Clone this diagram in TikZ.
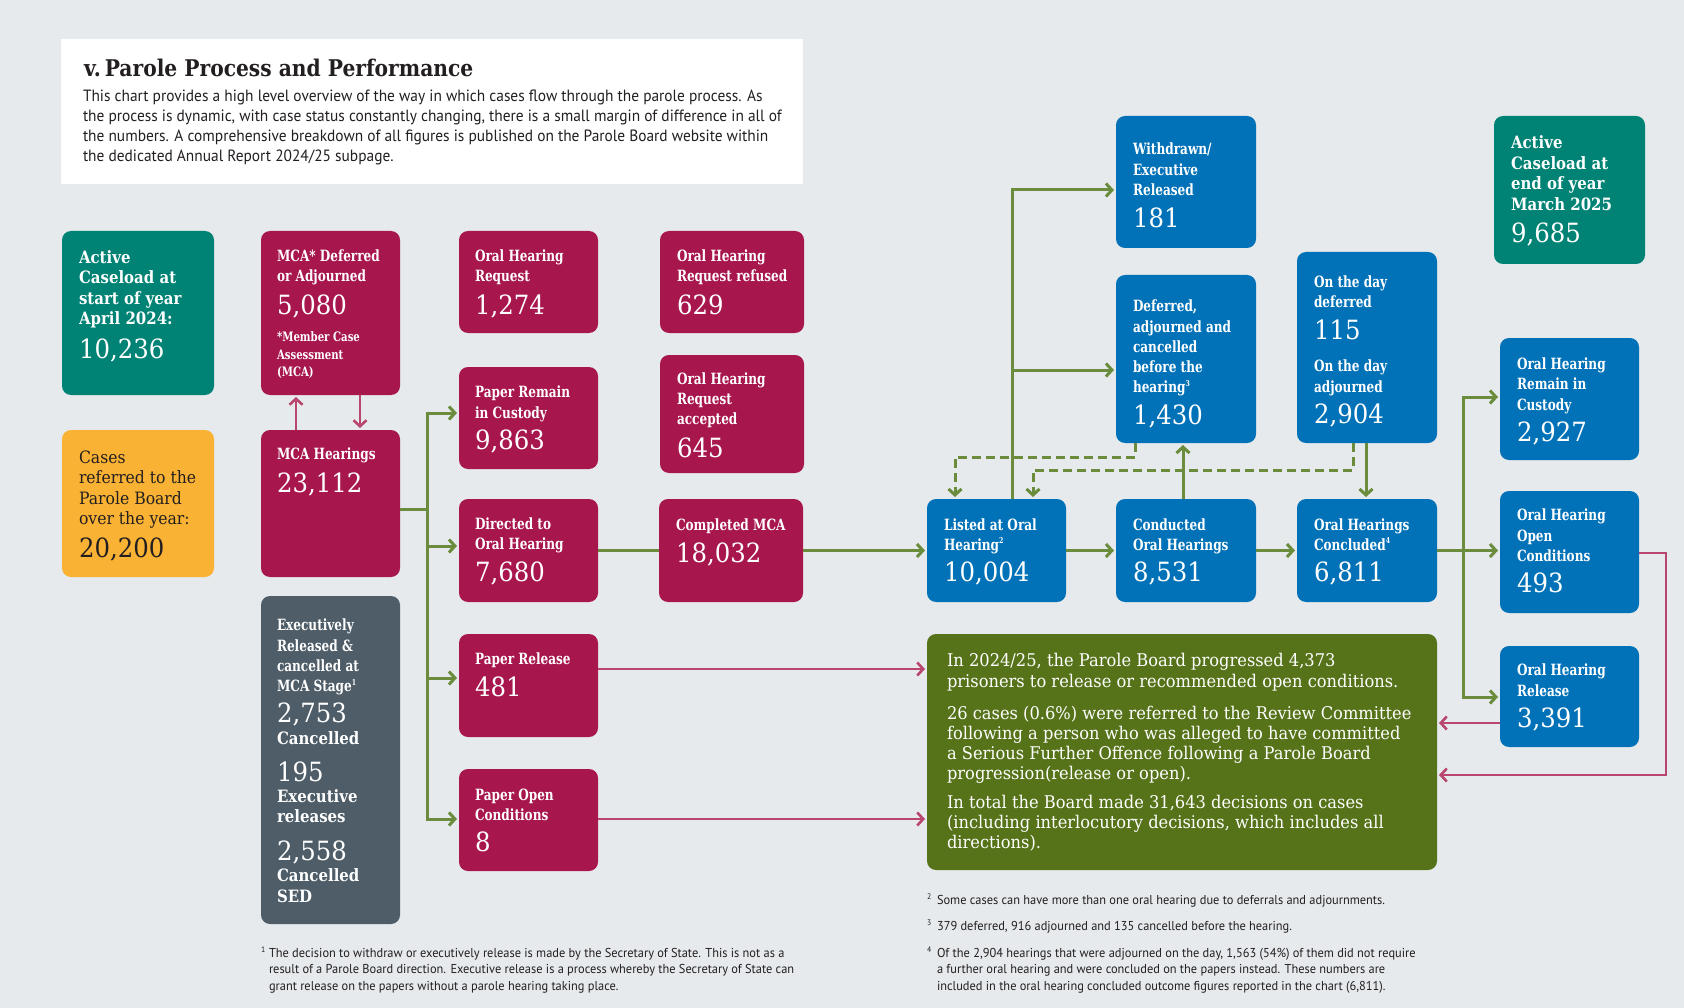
\documentclass[tikz,border=0pt]{standalone}
\usepackage{fontspec}
\setmainfont{PT Sans}
\newfontfamily\slabT[FakeStretch=0.78]{DejaVu Serif}
\newfontfamily\slabN[FakeStretch=0.92]{DejaVu Serif}
\newfontfamily\slabS[FakeStretch=0.93]{DejaVu Serif}
\newfontfamily\slabH[FakeStretch=0.88]{DejaVu Serif}
\newfontfamily\hsansA[FakeStretch=0.945]{PT Sans}
\newfontfamily\hsansB[FakeStretch=0.96]{PT Sans}
\usetikzlibrary{arrows.meta}
\definecolor{bgc}{RGB}{230,234,237}
\definecolor{teal}{RGB}{0,131,117}
\definecolor{amber}{RGB}{249,178,51}
\definecolor{crim}{RGB}{168,22,78}
\definecolor{slate}{RGB}{78,93,104}
\definecolor{blu}{RGB}{2,114,184}
\definecolor{oliv}{RGB}{86,115,26}
\definecolor{gcol}{RGB}{107,140,60}
\definecolor{pcol}{RGB}{184,70,111}
\definecolor{txtd}{RGB}{35,31,32}
\newcommand\FS[2]{\fontsize{#1pt}{#2pt}\selectfont}
\newcommand\sups[1]{\raisebox{0.42em}{\fontsize{8}{8}\selectfont #1}}
\newcommand\pbox[6]{\node[bx, fill=#6, minimum width={(#4)-(#2)}, minimum height={(#5)-(#3)}] (#1) at ({((#2)+(#4))/2},{((#3)+(#5))/2}) {};}
\newcommand\TX[6]{\node[#2] (#1) at ({#3},{#4-#5}) {\rule{0pt}{#5pt}#6};}
\tikzset{
  bx/.style={rectangle, rounded corners=9pt, inner sep=0pt, outer sep=0pt, draw=none},
  txt/.style={anchor=north west, align=left, inner sep=0pt, outer sep=0pt},
  tt/.style={txt, text=white, font=\slabT\bfseries\FS{15.5}{20.3}},
  nt/.style={txt, text=white, font=\slabT\bfseries\FS{13}{17.5}},
  tl/.style={txt, text=white, font=\slabH\bfseries\FS{17}{20.4}},
  ct/.style={txt, text=txtd, font=\slabN\FS{17}{20.4}},
  gl/.style={txt, text=white, font=\slabH\bfseries\FS{17}{20.7}},
  sm/.style={txt, text=white, font=\slabS\FS{17.5}{20.3}},
  hb/.style={txt, text=txtd, font=\hsansA\FS{16.3}{20}},
  fn/.style={txt, text=txtd, font=\hsansB\FS{12.9}{16.5}},
  fnm/.style={anchor=base west, inner sep=0pt, outer sep=0pt, text=txtd, font=\hsansB\FS{8}{8}},
  nm/.style={anchor=base west, inner sep=0pt, outer sep=0pt, text=white, font=\slabN\FS{26.5}{28}},
  gline/.style={draw=gcol, line width=3pt},
  garr/.style={gline, -{Straight Barb[length=6pt,width=13pt]}, shorten >=2pt},
  gdash/.style={garr, dash pattern=on 9pt off 5pt},
  parr/.style={draw=pcol, line width=2.6pt, -{Straight Barb[length=6pt,width=13pt]}, shorten >=2pt},
  pline/.style={draw=pcol, line width=2.6pt}
}
\begin{document}
\begin{tikzpicture}[x=1pt,y=-1pt]
\useasboundingbox (0,0) rectangle (1684,1008);
\fill[bgc] (0,0) rectangle (1684,1008);
% header
\node[rectangle, fill=white, inner sep=0pt, minimum width=742, minimum height=145] (hdr) at (432,111.5) {};
\node[anchor=base west, inner sep=0pt, text=txtd, font=\slabH\bfseries\FS{23}{26}] (title) at (84,77) {v.\,Parole Process and Performance};
\TX{hdrb}{hb}{83}{102}{13}{This chart provides a high level overview of the way in which cases flow through the parole process. As\\the process is dynamic, with case status constantly changing, there is a small margin of difference in all of\\the numbers. A comprehensive breakdown of all figures is published on the Parole Board website within\\the dedicated Annual Report 2024/25 subpage.}
% boxes
\pbox{ast}{62}{231}{214}{395}{teal}
\pbox{cref}{62}{430}{214}{577}{amber}
\pbox{mcad}{261}{231}{400}{395}{crim}
\pbox{mcah}{261}{430}{400}{577}{crim}
\pbox{exr}{261}{596}{400}{924}{slate}
\pbox{ohr}{459}{231}{598}{333}{crim}
\pbox{prc}{459}{367}{598}{469}{crim}
\pbox{dir}{459}{499}{598}{602}{crim}
\pbox{prl}{459}{634}{598}{737}{crim}
\pbox{pop}{459}{769}{598}{871}{crim}
\pbox{ohrf}{660}{231}{804}{333}{crim}
\pbox{ohra}{660}{355}{804}{473}{crim}
\pbox{cmca}{659}{499}{803}{602}{crim}
\pbox{lst}{927}{499}{1066}{602}{blu}
\pbox{cnd}{1116}{499}{1256}{602}{blu}
\pbox{ohc}{1297}{499}{1437}{602}{blu}
\pbox{wd}{1116}{116}{1256}{248}{blu}
\pbox{def}{1116}{275}{1256}{443}{blu}
\pbox{otd}{1297}{252}{1437}{443}{blu}
\pbox{aend}{1494}{116}{1645}{264}{teal}
\pbox{ohrm}{1500}{338}{1639}{460}{blu}
\pbox{oho}{1500}{491}{1639}{613}{blu}
\pbox{ohrl}{1500}{646}{1639}{747}{blu}
\pbox{sum}{927}{634}{1437}{870}{oliv}
% box texts
\TX{ast-t}{tl}{79}{263.3}{13.6}{Active\\Caseload at\\start of year\\April 2024:}
\node[nm] (ast-n) at (79,358) {10,236};
\TX{cref-t}{ct}{79}{463.3}{13.6}{Cases\\referred to the\\Parole Board\\over the year:}
\node[nm, text=txtd] (cref-n) at (79,557) {20,200};
\TX{mcad-t}{tt}{277}{261.7}{12.4}{MCA* Deferred\\or Adjourned}
\node[nm] (mcad-n) at (277,314.3) {5,080};
\TX{mcad-m}{nt}{277}{341.7}{10.4}{*Member Case\\Assessment\\(MCA)}
\TX{mcah-t}{tt}{277}{459}{12.4}{MCA Hearings}
\node[nm] (mcah-n) at (277,492.7) {23,112};
\TX{exr-t}{tt}{277}{630.7}{12.4}{Executively\\Released \&\\cancelled at\\MCA Stage\sups{1}}
\node[nm] (exr-n1) at (277,722.7) {2,753};
\TX{exr-l1}{gl}{277}{744}{13.6}{Cancelled}
\node[nm] (exr-n2) at (277,781.7) {195};
\TX{exr-l2}{gl}{277}{802}{13.6}{Executive\\releases}
\node[nm] (exr-n3) at (277,860.7) {2,558};
\TX{exr-l3}{gl}{277}{881.7}{13.6}{Cancelled\\SED}
\TX{ohr-t}{tt}{475}{261.7}{12.4}{Oral Hearing\\Request}
\node[nm] (ohr-n) at (475,314.3) {1,274};
\TX{prc-t}{tt}{475}{397.7}{12.4}{Paper Remain\\in Custody}
\node[nm] (prc-n) at (475,449.3) {9,863};
\TX{dir-t}{tt}{475}{529.3}{12.4}{Directed to\\Oral Hearing}
\node[nm] (dir-n) at (475,581.7) {7,680};
\TX{prl-t}{tt}{475}{664}{12.4}{Paper Release}
\node[nm] (prl-n) at (475,696.7) {481};
\TX{pop-t}{tt}{475}{800}{12.4}{Paper Open\\Conditions}
\node[nm] (pop-n) at (475,851.7) {8};
\TX{ohrf-t}{tt}{677}{261.7}{12.4}{Oral Hearing\\Request refused}
\node[nm] (ohrf-n) at (677,314.3) {629};
\TX{ohra-t}{tt}{677}{384.3}{12.4}{Oral Hearing\\Request\\accepted}
\node[nm] (ohra-n) at (677,457.3) {645};
\TX{cmca-t}{tt}{676}{530}{12.4}{Completed MCA}
\node[nm] (cmca-n) at (676,562.3) {18,032};
\TX{lst-t}{tt}{944}{530}{12.4}{Listed at Oral\\Hearing\sups{2}}
\node[nm] (lst-n) at (944,581.5) {10,004};
\TX{cnd-t}{tt}{1133}{530}{12.4}{Conducted\\Oral Hearings}
\node[nm] (cnd-n) at (1133,581.5) {8,531};
\TX{ohc-t}{tt}{1314}{530}{12.4}{Oral Hearings\\Concluded\sups{4}}
\node[nm] (ohc-n) at (1314,581.5) {6,811};
\TX{wd-t}{tt}{1133}{155}{12.4}{Withdrawn/\\Executive\\Released}
\node[nm] (wd-n) at (1133,227.3) {181};
\TX{def-t}{tt}{1133}{311.7}{12.4}{Deferred,\\adjourned and\\cancelled\\before the\\hearing\sups{3}}
\node[nm] (def-n) at (1133,424.3) {1,430};
\TX{otd-t1}{tt}{1314}{287.7}{12.4}{On the day\\deferred}
\node[nm] (otd-n1) at (1314,340) {115};
\TX{otd-t2}{tt}{1314}{371.7}{12.4}{On the day\\adjourned}
\node[nm] (otd-n2) at (1314,423.3) {2,904};
\TX{aend-t}{tl}{1511}{149}{13.6}{Active\\Caseload at\\end of year\\March 2025}
\node[nm] (aend-n) at (1511,242.3) {9,685};
\TX{ohrm-t}{tt}{1517}{369.4}{12.4}{Oral Hearing\\Remain in\\Custody}
\node[nm] (ohrm-n) at (1517,441) {2,927};
\TX{oho-t}{tt}{1517}{520.9}{12.4}{Oral Hearing\\Open\\Conditions}
\node[nm] (oho-n) at (1517,592.4) {493};
\TX{ohrl-t}{tt}{1517}{675.8}{12.4}{Oral Hearing\\Release}
\node[nm] (ohrl-n) at (1517,727.1) {3,391};
\TX{sum-p1}{sm}{947}{666.7}{14}{In 2024/25, the Parole Board progressed 4,373\\prisoners to release or recommended open conditions.}
\TX{sum-p2}{sm}{947}{719}{14}{26 cases (0.6\%) were referred to the Review Committee\\following a person who was alleged to have committed\\a Serious Further Offence following a Parole Board\\progression(release or open).}
\TX{sum-p3}{sm}{947}{808.3}{14}{In total the Board made 31,643 decisions on cases\\(including interlocutory decisions, which includes all\\directions).}
% footnotes
\node[fnm] (fn1m) at (261,952) {1};
\TX{fn1}{fn}{269}{957}{10.3}{The decision to withdraw or executively release is made by the Secretary of State. This is not as a\\result of a Parole Board direction. Executive release is a process whereby the Secretary of State can\\grant release on the papers without a parole hearing taking place.}
\node[fnm] (fn2m) at (927,899) {2};
\TX{fn2}{fn}{937}{904}{10.3}{Some cases can have more than one oral hearing due to deferrals and adjournments.}
\node[fnm] (fn3m) at (927,925.7) {3};
\TX{fn3}{fn}{937}{930.7}{10.3}{379 deferred, 916 adjourned and 135 cancelled before the hearing.}
\node[fnm] (fn4m) at (927,952) {4};
\TX{fn4}{fn}{937}{957}{10.3}{Of the 2,904 hearings that were adjourned on the day, 1,563 (54\%) of them did not require\\a further oral hearing and were concluded on the papers instead. These numbers are\\included in the oral hearing concluded outcome figures reported in the chart (6,811).}
% connectors
\draw[parr] (mcah.north -| 296,0) -- (mcad.south -| 296,0);
\draw[parr] (mcad.south -| 360,0) -- (mcah.north -| 360,0);
\coordinate (lb) at (427,509);
\draw[gline] (mcah.east |- lb) -- (lb);
\draw[garr] (lb) |- (prc.west |- 0,413);
\draw[garr] (lb) |- (pop.west |- 0,819);
\draw[garr] (lb |- 0,546) -- (dir.west |- 0,546);
\draw[garr] (lb |- 0,678) -- (prl.west |- 0,678);
\draw[gline] (dir.east) -- (cmca.west);
\draw[garr] (cmca.east) -- (lst.west);
\draw[garr] (lst.east) -- (cnd.west);
\draw[garr] (cnd.east) -- (ohc.west);
\coordinate (rb) at (1463,550.5);
\draw[garr] (ohc.east) -- (oho.west |- ohc.east);
\draw[garr] (rb) |- (ohrm.west |- 0,397);
\draw[garr] (rb) |- (ohrl.west |- 0,697);
\coordinate (lv) at (1012,370);
\draw[garr] (lst.north -| lv) |- (wd.west |- 0,190);
\draw[garr] (lv) -- (def.west |- lv);
\draw[garr] (cnd.north -| 1183,0) -- (def.south -| 1183,0);
\draw[garr] (otd.south -| 1366,0) -- (ohc.north -| 1366,0);
\draw[gdash] (def.south -| 1135,0) |- (955,457) -- (lst.north -| 955,0);
\draw[gdash] (otd.south -| 1353,0) |- (1033,470) -- (lst.north -| 1033,0);
\draw[parr] (prl.east |- 0,669) -- (sum.west |- 0,669);
\draw[parr] (pop.east |- 0,819) -- (sum.west |- 0,819);
\draw[parr] (ohrl.west |- 0,723) -- (sum.east |- 0,723);
\draw[parr] (oho.east |- 0,553) -| (1666,775) -- (sum.east |- 0,775);
\end{tikzpicture}
\end{document}
